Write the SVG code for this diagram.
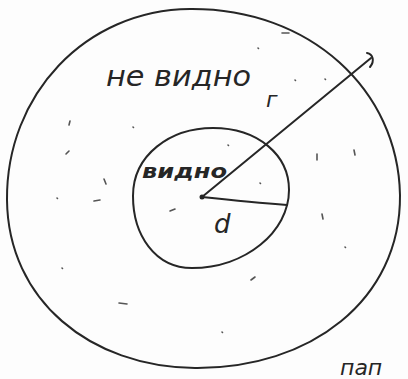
<svg xmlns="http://www.w3.org/2000/svg" width="408" height="379" viewBox="0 0 408 379">
<style>
.ink{fill:none;stroke:#262626;stroke-width:2;stroke-linecap:round;stroke-linejoin:round}
.txt{font-family:"DejaVu Sans",sans-serif;font-style:italic;fill:#262626}
.speck{fill:none;stroke:#555;stroke-width:1.6;stroke-linecap:round}
</style>
<rect width="408" height="379" fill="#fdfdfd"/>
<g id="outer">
<path class="ink" d="M190,9 C310,8 398,90 400,195 C401,300 310,369 195,368 C90,367 8,300 7,200 C6,95 85,10 190,9 Z"/>
<text class="txt" x="106" y="86" font-size="29" textLength="145" lengthAdjust="spacingAndGlyphs">не видно</text>
</g>
<g id="inner">
<path class="ink" d="M213,128 C258,128 289,155 289,190 C289,232 245,268 192,268 C155,268 133,235 133,196 C133,155 170,128 213,128 Z"/>
<text class="txt" x="142" y="178" font-size="19" font-weight="bold" textLength="85" lengthAdjust="spacingAndGlyphs">видно</text>
</g>
<g id="connectors">
<circle cx="202" cy="197" r="2.5" fill="#262626"/>
<path class="ink" d="M202,197 L371,58"/>
<path class="ink" d="M367,53 C373,54 375,61 370,67"/>
<path class="ink" d="M202,197 C230,200 260,203 287,205"/>
<text class="txt" x="266" y="107" font-size="22" font-style="normal">г</text>
<text class="txt" x="214" y="233" font-size="26" font-style="normal">d</text>
</g>
<g id="specks">
<path class="speck" d="M282,33 L289,33 M258,48 l0.5,0.5 M295,80 l0.5,0.5 M325,79 l0.5,0.5 M70,121 l-1,4 M69,151 l-3,3 M133,127 l0.5,0.5 M104,179 l2,5 M94,201 l6,-1 M57,198 l0.5,0.5 M228,145 l0.5,0.5 M260,183 l0.5,0.5 M317,154 l0,6 M354,150 l1,5 M170,211 l5,-2 M322,214 l1,5 M345,247 l0.5,0.5 M62,268 l0.5,0.5 M251,280 l4,-3 M119,303 l8,1 M222,332 l0.5,0.5"/>
</g>
<text class="txt" x="340" y="375" font-size="22">пап</text>
</svg>
